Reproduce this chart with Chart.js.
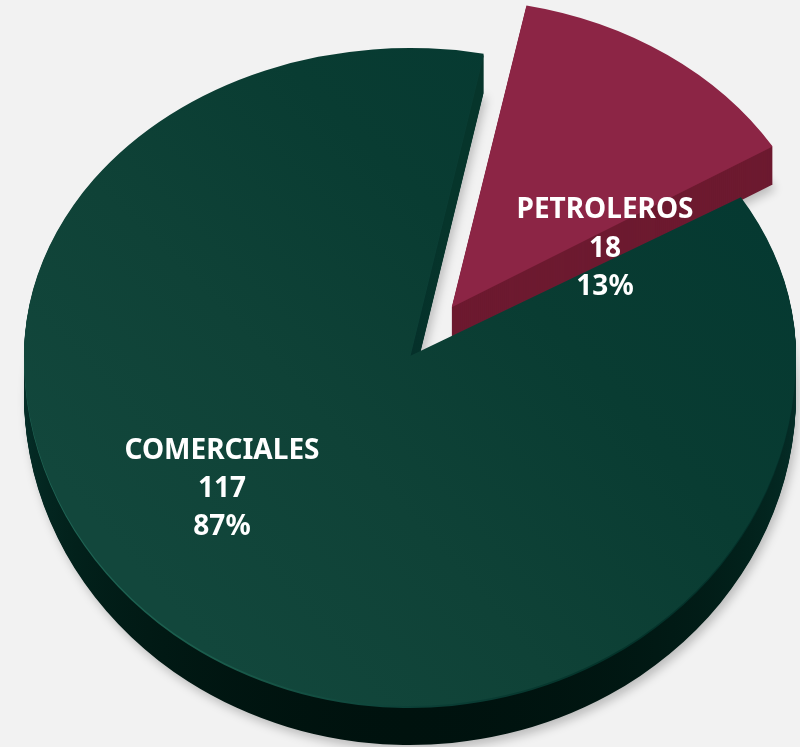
<!DOCTYPE html>
<html><head><meta charset="utf-8">
<style>html,body{margin:0;padding:0;background:#f2f2f2}canvas{display:block}</style>
<script src="https://cdn.jsdelivr.net/npm/chart.js@4"></script></head>
<body><canvas id="c" width="800" height="747"></canvas>
<script>
const categories = ['PETROLEROS', 'COMERCIALES'];
const values = [18, 117];
const percents = ['13%', '87%'];
const faceColors = ['#8c2545', '#0c4037'];

const R = 300, CX = 410, CY = 356, RX = 386, RY_UP = 308, RY_DOWN = 350;
const looks = [
  {depth: 38, radiusScale: 0.95, xScale: 0.975, side: () => '#6d1a30', rim: null},
  {depth: 39, radiusScale: 1, xScale: 1,
   side: (ctx, el) => lineGrad(ctx, el, [0, -1, 0, 1], ['#06352b', '#06352b', '#05302a', '#02211b', '#00120e']),
   rim: (ctx, el) => lineGrad(ctx, el, [-1, 0, 1, 0], ['#1f6656', '#1a5c4c', '#0c4037', '#04332a', '#03302a'])}
];
const labelSpots = [{x: 605, ys: [210, 249, 287]}, {x: 222, ys: [451, 489, 527]}];

function lineGrad(ctx, el, dir, stops) {
  const g = ctx.createLinearGradient(el.x + dir[0] * R, el.y + dir[1] * R, el.x + dir[2] * R, el.y + dir[3] * R);
  stops.forEach((c, i) => g.addColorStop(i / (stops.length - 1), c));
  return g;
}
function paint(ctx, el, dy, fill, shadow, xScale) {
  const o = Object.create(el.options);
  o.backgroundColor = fill;
  const saved = el.options;
  el.options = o;
  [[0, CY + dy, RY_UP], [CY + dy, 800, RY_DOWN]].forEach(([top, bottom, ry]) => {
    ctx.save();
    ctx.beginPath(); ctx.rect(0, top, 800, bottom - top); ctx.clip();
    ctx.translate(CX, CY + dy);
    ctx.scale(xScale * RX / R, ry / R);
    ctx.translate(-el.x, -el.y);
    if (shadow) { ctx.shadowColor = 'rgba(0,0,0,0.22)'; ctx.shadowBlur = 10; ctx.shadowOffsetX = 3; ctx.shadowOffsetY = 5; }
    ctx.fillStyle = fill;
    el.draw(ctx);
    ctx.restore();
  });
  el.options = saved;
}
const pie3d = {
  id: 'pie3d',
  beforeDatasetsDraw(chart) {
    const ctx = chart.ctx;
    chart.getDatasetMeta(0).data.forEach((el, i) => {
      const look = looks[i], r0 = el.outerRadius;
      el.outerRadius = r0 * look.radiusScale;
      const side = look.side(ctx, el);
      for (let d = look.depth; d > 0; d--) paint(ctx, el, d, side, d === look.depth, look.xScale);
      if (look.rim) paint(ctx, el, 2, look.rim(ctx, el), false, look.xScale);
      const face = i === 1
        ? lineGrad(ctx, el, [-0.8, 0.5, 0.7, -0.7], ['#12473c', '#0f4237', '#093c32', '#053931'])
        : faceColors[i];
      paint(ctx, el, 0, face, false, look.xScale);
      el.outerRadius = r0;
    });
    return false;
  },
  afterDraw(chart) {
    const ctx = chart.ctx;
    ctx.save();
    ctx.font = 'bold 28px "Noto Sans"';
    ctx.fillStyle = '#ffffff';
    ctx.textAlign = 'center';
    ctx.textBaseline = 'middle';
    categories.forEach((name, i) => {
      const s = labelSpots[i];
      [name, String(values[i]), percents[i]].forEach((t, k) => ctx.fillText(t, s.x, s.ys[k]));
    });
    ctx.restore();
  }
};
new Chart(document.getElementById('c'), {
  type: 'pie',
  data: {labels: categories, datasets: [{data: values, backgroundColor: faceColors, borderWidth: 0, offset: [232, 0]}]},
  options: {
    responsive: false, animation: false, radius: R, rotation: 11,
    layout: {padding: 0},
    plugins: {legend: {display: false}, tooltip: {enabled: false}}
  },
  plugins: [pie3d]
});
</script></body></html>
